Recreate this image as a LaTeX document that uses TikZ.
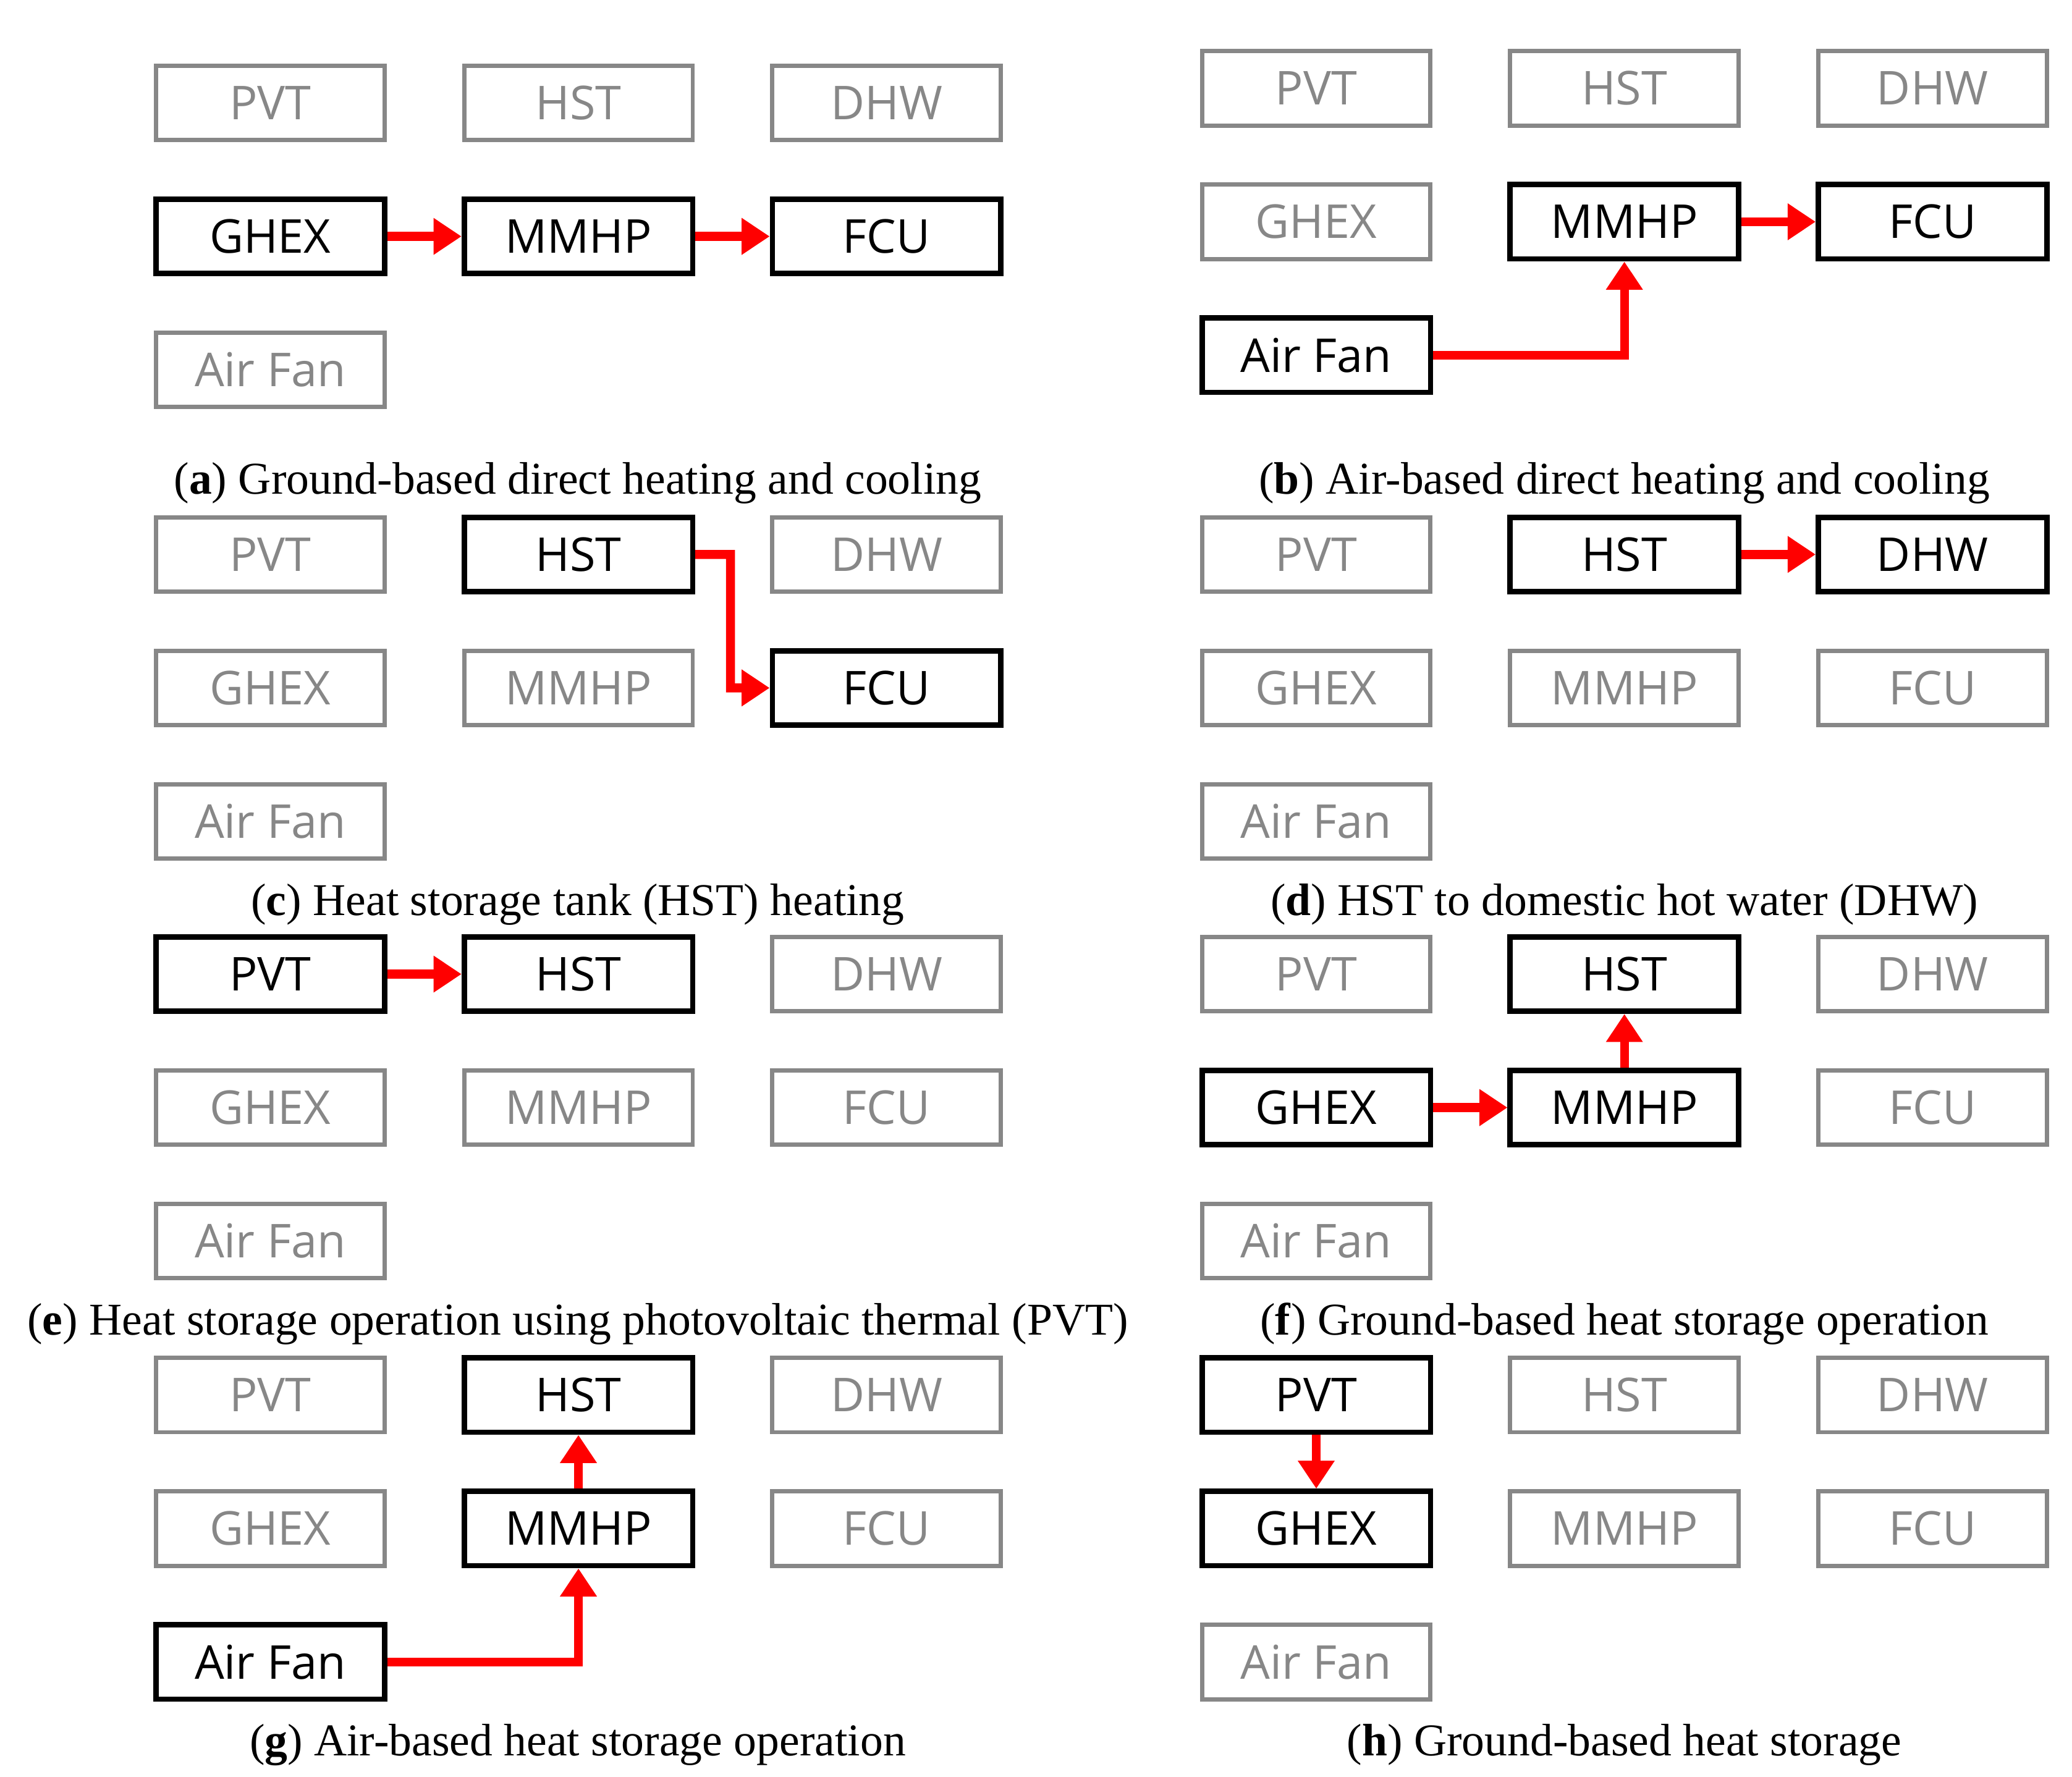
\documentclass[tikz,border=0pt]{standalone}
\usepackage{fontspec}
\setmainfont{Liberation Serif}
\newfontfamily\boxfont{Open Sans}
\usetikzlibrary{arrows.meta}
\definecolor{offgray}{RGB}{135,135,135}
\tikzset{
 x=0.02cm,y=-0.02cm,
 bx/.style={minimum width=172*0.02cm,minimum height=56*0.02cm,inner sep=0pt,font=\boxfont\fontsize{20}{20}\selectfont},
 on/.style={bx,draw=black,line width=2.3pt,text=black},
 off/.style={bx,draw=offgray,line width=1.8pt,text=offgray},
 arr/.style={draw=red,line width=3.8pt,-{Triangle[length=12pt,width=15pt]}},
 captxt/.style={font=\fontsize{19.5}{19.5}\selectfont,inner sep=0pt}
}
\newcommand\panel[8]{%
 \node[#2] (#1pvt) at (0,0) {PVT};
 \node[#3] (#1hst) at (232,0) {HST};
 \node[#4] (#1dhw) at (464,0) {DHW};
 \node[#5] (#1ghex) at (0,100.5) {GHEX};
 \node[#6] (#1mmhp) at (232,100.5) {MMHP};
 \node[#7] (#1fcu) at (464,100.5) {FCU};
 \node[#8] (#1fan) at (0,201) {Air Fan};
}
\begin{document}
\begin{tikzpicture}
\useasboundingbox (0,0) rectangle (1560,1338);
% a
\begin{scope}[shift={(203.5,77.5)}]
\panel{a}{off}{off}{off}{on}{on}{on}{off}
\end{scope}
\draw[arr] (aghex) -- (ammhp);
\draw[arr] (ammhp) -- (afcu);
\node[captxt] (capa) at (435,364) {(\textbf{a}) Ground-based direct heating and cooling};
% b
\begin{scope}[shift={(991,66.5)}]
\panel{b}{off}{off}{off}{off}{on}{on}{on}
\end{scope}
\draw[arr] (bmmhp) -- (bfcu);
\draw[arr] (bfan.east) -| (bmmhp.south);
\node[captxt] (capb) at (1223,364) {(\textbf{b}) Air-based direct heating and cooling};
% c
\begin{scope}[shift={(203.5,417.5)}]
\panel{c}{off}{on}{off}{off}{off}{on}{off}
\end{scope}
\coordinate (cm1) at (550,417.5);
\coordinate (cm2) at (550,518);
\draw[arr] (chst.east) -- (cm1) -- (cm2) -- (cfcu.west);
\node[captxt] (capc) at (435,681) {(\textbf{c}) Heat storage tank (HST) heating};
% d
\begin{scope}[shift={(991,417.5)}]
\panel{d}{off}{on}{on}{off}{off}{off}{off}
\end{scope}
\draw[arr] (dhst) -- (ddhw);
\node[captxt] (capd) at (1223,681) {(\textbf{d}) HST to domestic hot water (DHW)};
% e
\begin{scope}[shift={(203.5,733.5)}]
\panel{e}{on}{on}{off}{off}{off}{off}{off}
\end{scope}
\draw[arr] (epvt) -- (ehst);
\node[captxt] (cape) at (435,997) {(\textbf{e}) Heat storage operation using photovoltaic thermal (PVT)};
% f
\begin{scope}[shift={(991,733.5)}]
\panel{f}{off}{on}{off}{on}{on}{off}{off}
\end{scope}
\draw[arr] (fghex) -- (fmmhp);
\draw[arr] (fmmhp) -- (fhst);
\node[captxt] (capf) at (1223,997) {(\textbf{f}) Ground-based heat storage operation};
% g
\begin{scope}[shift={(203.5,1050.5)}]
\panel{g}{off}{on}{off}{off}{on}{off}{on}
\end{scope}
\draw[arr] (gmmhp) -- (ghst);
\draw[arr] (gfan.east) -| (gmmhp.south);
\node[captxt] (capg) at (435,1314) {(\textbf{g}) Air-based heat storage operation};
% h
\begin{scope}[shift={(991,1050.5)}]
\panel{h}{on}{off}{off}{on}{off}{off}{off}
\end{scope}
\draw[arr] (hpvt) -- (hghex);
\node[captxt] (caph) at (1223,1314) {(\textbf{h}) Ground-based heat storage};
\end{tikzpicture}
\end{document}
